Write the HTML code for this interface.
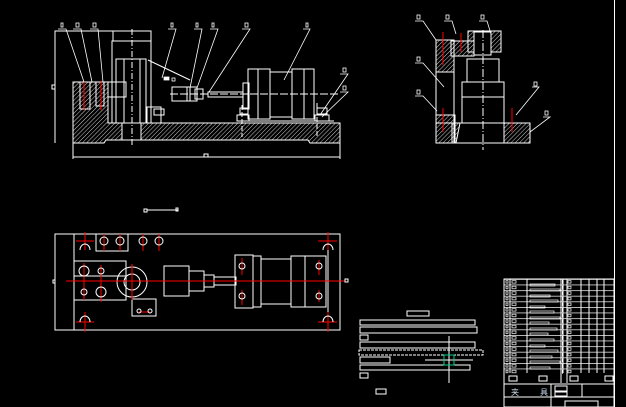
<!DOCTYPE html>
<html><head><meta charset="utf-8"><style>
html,body{margin:0;padding:0;background:#000;width:626px;height:407px;overflow:hidden}
svg{display:block}
text{font-family:"Liberation Sans","Noto Sans CJK SC",sans-serif}
</style></head><body>
<svg width="626" height="407" viewBox="0 0 626 407" xmlns="http://www.w3.org/2000/svg">
<defs>
<pattern id="h" width="3" height="3" patternUnits="userSpaceOnUse" patternTransform="rotate(45)"><line x1="0" y1="0" x2="0" y2="3" stroke="#fff" stroke-width="0.8"/></pattern>
<pattern id="rows" width="200" height="5.6" patternUnits="userSpaceOnUse" y="279"><line x1="0" y1="0.3" x2="200" y2="0.3" stroke="#fff" stroke-width="0.8"/></pattern>
<pattern id="cells" width="200" height="5.6" patternUnits="userSpaceOnUse" x="504" y="279">
<rect x="2" y="1.6" width="2" height="2.5" fill="none" stroke="#fff" stroke-width="0.7"/>
<rect x="8" y="1.6" width="4" height="2.5" fill="none" stroke="#fff" stroke-width="0.7"/>
<rect x="64" y="1.6" width="3" height="2.5" fill="none" stroke="#fff" stroke-width="0.7"/>
<rect x="58" y="1" width="1" height="4" fill="#fff"/>
</pattern>
</defs>
<g fill="none" stroke="#fff" stroke-width="1">
<line x1="614.5" y1="0" x2="614.5" y2="407"/>

<!-- FRONT VIEW -->
<polyline points="55,143 55,31 150,31"/>
<rect x="52" y="85" width="3" height="4"/>
<line x1="73" y1="157" x2="340" y2="157"/>
<line x1="73" y1="143" x2="73" y2="159"/><line x1="340" y1="143" x2="340" y2="159"/>
<rect x="204" y="154" width="4" height="3"/>
<path d="M73,82 L108,82 L108,123 L340,123 L340,143 L310,143 L308,140 L106,140 L104,143 L73,143 Z" fill="url(#h)"/>
<rect x="122" y="123" width="19" height="17" fill="#000"/>
<rect x="112" y="41" width="39" height="82"/>
<rect x="113" y="31" width="38" height="10"/>
<rect x="116" y="59" width="30" height="64"/>
<line x1="124" y1="59" x2="124" y2="123"/><line x1="140" y1="59" x2="140" y2="123"/>
<line x1="132" y1="29" x2="132" y2="146" stroke-dasharray="6,2,1,2"/>
<rect x="108" y="82" width="18" height="15"/>
<rect x="147" y="107" width="14" height="16"/>
<rect x="154" y="109" width="10" height="6"/>
<rect x="80" y="82" width="10" height="27"/>
<rect x="96" y="82" width="8" height="24"/>
<rect x="172" y="87" width="18" height="14"/>
<rect x="187" y="87" width="10" height="14"/>
<rect x="195" y="89" width="8" height="10"/>
<rect x="208" y="92" width="35" height="5"/>
<rect x="243" y="83" width="6" height="26"/>
<rect x="248" y="69" width="10" height="50"/>
<rect x="258" y="69" width="12" height="50"/>
<rect x="270" y="72" width="22" height="45"/>
<rect x="292" y="69" width="12" height="50"/>
<rect x="304" y="69" width="10" height="50"/>
<rect x="237" y="115" width="12" height="6"/><rect x="240" y="108" width="8" height="6"/>
<rect x="315" y="115" width="14" height="6"/><rect x="317" y="108" width="10" height="6"/>
<line x1="241" y1="121" x2="334" y2="121"/>
<line x1="170" y1="94" x2="340" y2="94" stroke-dasharray="8,2"/>
<line x1="242" y1="105" x2="242" y2="137" stroke-dasharray="5,2"/>
<line x1="317" y1="103" x2="317" y2="137" stroke-dasharray="5,2"/>
<line x1="148" y1="60" x2="190" y2="80"/>
<line x1="84" y1="81" x2="84" y2="110" stroke="#f00"/>
<line x1="101" y1="81" x2="101" y2="110" stroke="#f00"/>
<g stroke-width="0.8">
<polyline points="58,29 66,29 84,82"/><polyline points="73,29 81,29 92,82"/><polyline points="90,29 98,29 103,82"/>
<polyline points="168,29 176,29 162,78"/><polyline points="194,29 202,29 190,88"/><polyline points="210,29 218,29 197,88"/>
<polyline points="242,29 250,29 209,92"/><polyline points="303,29 310,29 284,80"/>
<polyline points="340,74 348,74 320,115"/><polyline points="340,92 348,92 322,117"/>
</g>
<g stroke-width="0.8">
<rect x="61" y="23" width="2" height="4"/><rect x="76" y="23" width="3" height="4"/><rect x="93" y="23" width="3" height="4"/>
<rect x="171" y="23" width="2" height="4"/><rect x="196" y="23" width="2" height="4"/><rect x="212" y="23" width="2" height="4"/>
<rect x="245" y="23" width="3" height="4"/><rect x="306" y="23" width="2" height="4"/>
<rect x="343" y="68" width="3" height="4"/><rect x="343" y="86" width="3" height="4"/>
<rect x="164" y="77" width="5" height="3" fill="#fff"/><rect x="172" y="78" width="3" height="3"/>
</g>
<rect x="144" y="209" width="3" height="3"/><line x1="147" y1="210" x2="178" y2="210"/><rect x="176" y="208" width="2" height="3"/>

<!-- SIDE VIEW -->
<path d="M436,40 L454,40 L454,72 L436,72 Z M436,115 L455,115 L455,143 L436,143 Z M504,123 L530,123 L530,143 L504,143 Z M452,123 L460,123 L456,143 L452,143Z" fill="url(#h)"/>
<path d="M451,41 L474,41 L474,56 L451,56 Z M468,31 L501,31 L501,52 L468,52Z" fill="url(#h)"/>
<rect x="474" y="32" width="17" height="23" fill="#000"/>
<rect x="436" y="40" width="18" height="103"/>
<rect x="436" y="123" width="94" height="20"/>
<rect x="467" y="59" width="32" height="23"/>
<rect x="462" y="82" width="42" height="15"/>
<line x1="462" y1="97" x2="462" y2="123"/><line x1="504" y1="97" x2="504" y2="123"/>
<line x1="483" y1="30" x2="483" y2="150" stroke-dasharray="8,2,1,2"/>
<line x1="443" y1="32" x2="443" y2="65" stroke="#f00"/>
<line x1="443" y1="108" x2="443" y2="132" stroke="#f00"/>
<line x1="512" y1="108" x2="512" y2="132" stroke="#f00"/>
<line x1="461" y1="33" x2="461" y2="52" stroke="#f00"/>
<g stroke-width="0.8">
<polyline points="415,21 423,21 436,40"/><polyline points="444,21 452,21 456,34"/><polyline points="479,21 487,21 491,34"/>
<polyline points="415,63 423,63 444,87"/><polyline points="415,96 423,96 437,111"/>
<polyline points="532,87 539,87 516,115"/><polyline points="543,117 550,117 530,132"/>
<rect x="417" y="15" width="3" height="4"/><rect x="446" y="15" width="3" height="4"/><rect x="481" y="15" width="3" height="4"/>
<rect x="417" y="57" width="3" height="4"/><rect x="417" y="90" width="3" height="4"/><rect x="534" y="82" width="3" height="4"/><rect x="545" y="111" width="3" height="4"/>
</g>

<!-- TOP VIEW -->
<rect x="55" y="234" width="285" height="96"/>
<line x1="74" y1="234" x2="74" y2="330"/><line x1="328" y1="234" x2="328" y2="330"/>
<rect x="96" y="234" width="32" height="17"/>
<rect x="74" y="261" width="52" height="15"/>
<path d="M74,261 L126,261 L126,300 L74,300"/>
<circle cx="132" cy="282" r="15"/><circle cx="132" cy="282" r="8"/>
<rect x="132" y="299" width="24" height="17"/>
<rect x="164" y="266" width="25" height="30"/>
<rect x="189" y="271" width="15" height="20"/>
<rect x="204" y="275" width="10" height="12"/>
<rect x="214" y="277" width="22" height="8"/>
<rect x="235" y="255" width="18" height="53"/>
<rect x="253" y="256" width="8" height="51"/>
<rect x="261" y="259" width="30" height="45"/>
<rect x="291" y="256" width="14" height="51"/>
<rect x="305" y="256" width="21" height="51"/>
<g stroke="#f00" stroke-width="1">
<line x1="66" y1="281" x2="345" y2="281"/>
<line x1="85" y1="232" x2="85" y2="250"/><line x1="76" y1="241" x2="94" y2="241"/>
<line x1="328" y1="232" x2="328" y2="250"/><line x1="318" y1="241" x2="337" y2="241"/>
<line x1="85" y1="312" x2="85" y2="332"/><line x1="76" y1="322" x2="94" y2="322"/>
<line x1="328" y1="312" x2="328" y2="332"/><line x1="318" y1="322" x2="337" y2="322"/>
<line x1="132" y1="264" x2="132" y2="300"/>
<line x1="84" y1="263" x2="84" y2="288"/><line x1="101" y1="265" x2="101" y2="285"/>
<line x1="84" y1="285" x2="84" y2="300"/><line x1="101" y1="283" x2="101" y2="302"/>
<line x1="242" y1="258" x2="242" y2="275"/><line x1="242" y1="290" x2="242" y2="305"/>
<line x1="319" y1="260" x2="319" y2="275"/><line x1="319" y1="290" x2="319" y2="302"/>
<line x1="104" y1="234" x2="104" y2="251"/><line x1="120" y1="234" x2="120" y2="251"/><line x1="143" y1="234" x2="143" y2="251"/><line x1="159" y1="234" x2="159" y2="251"/>
<line x1="139" y1="312" x2="150" y2="312"/>
</g>
<g stroke-width="1">
<circle cx="104" cy="241" r="4"/><circle cx="120" cy="241" r="4"/><circle cx="143" cy="241" r="4"/><circle cx="159" cy="241" r="4"/>
<circle cx="84" cy="271" r="5"/><circle cx="101" cy="271" r="3"/><circle cx="84" cy="292" r="3"/><circle cx="101" cy="292" r="5"/>
<circle cx="139" cy="311" r="2"/><circle cx="150" cy="311" r="2"/>
<circle cx="242" cy="266" r="3"/><circle cx="242" cy="296" r="3"/><circle cx="319" cy="266" r="3"/><circle cx="319" cy="296" r="3"/>
<path d="M80,250 A5,6 0 0 1 90,250"/><path d="M323,250 A5,6 0 0 1 333,250"/>
<path d="M80,322 A5,6 0 0 1 90,322"/><path d="M323,322 A5,6 0 0 1 333,322"/>
</g>
<rect x="53" y="280" width="2" height="3"/><rect x="345" y="279" width="3" height="3"/>

<!-- PARTS LIST STRIPES -->
<rect x="407" y="311" width="22" height="5"/>
<rect x="360" y="320" width="115" height="5"/>
<rect x="360" y="327" width="117" height="6"/>
<rect x="360" y="335" width="8" height="5"/>
<rect x="360" y="342" width="115" height="6"/>
<rect x="359" y="350" width="124" height="5" stroke-dasharray="3,1"/>
<rect x="360" y="357" width="30" height="6"/>
<rect x="360" y="365" width="110" height="5"/>
<rect x="360" y="373" width="8" height="5"/>
<rect x="376" y="389" width="10" height="5"/>
<line x1="449" y1="336" x2="449" y2="383"/>
<line x1="425" y1="360" x2="473" y2="360"/>
<rect x="444" y="355" width="10" height="10" stroke="#0c8"/>

<!-- TITLE TABLE -->
<rect x="504" y="279" width="110" height="128"/>
<rect x="504" y="279" width="110" height="95" fill="url(#rows)" stroke="none"/>
<rect x="504" y="279" width="110" height="95" fill="url(#cells)" stroke="none"/>
<line x1="510" y1="279" x2="510" y2="373"/><line x1="527" y1="279" x2="527" y2="373"/>
<line x1="561" y1="279" x2="561" y2="383"/><line x1="563" y1="279" x2="563" y2="373"/>
<line x1="567" y1="279" x2="567" y2="383"/><line x1="581" y1="279" x2="581" y2="373"/>
<line x1="589" y1="279" x2="589" y2="373"/><line x1="597" y1="279" x2="597" y2="373"/>
<line x1="604" y1="279" x2="604" y2="373"/>
<line x1="504" y1="384" x2="614" y2="384"/><line x1="504" y1="397" x2="614" y2="397"/>
<line x1="551" y1="384" x2="551" y2="407"/><line x1="582" y1="384" x2="582" y2="397"/>
<rect x="509" y="376" width="8" height="5"/><rect x="539" y="376" width="8" height="5"/><rect x="570" y="376" width="8" height="5"/><rect x="605" y="376" width="8" height="5"/>
<rect x="565" y="401" width="33" height="6"/>
<rect x="555" y="386" width="12" height="5"/><rect x="555" y="392" width="12" height="4"/>
<g stroke-width="0.7">
<rect x="530" y="284" width="25" height="2"/><rect x="530" y="289" width="30" height="2"/><rect x="530" y="295" width="20" height="2"/>
<rect x="530" y="300" width="28" height="2"/><rect x="530" y="306" width="15" height="2"/><rect x="530" y="311" width="24" height="2"/>
<rect x="530" y="317" width="30" height="2"/><rect x="530" y="322" width="19" height="2"/><rect x="530" y="328" width="27" height="2"/>
<rect x="530" y="333" width="18" height="2"/><rect x="530" y="339" width="24" height="2"/><rect x="530" y="345" width="15" height="2"/>
<rect x="530" y="350" width="28" height="2"/><rect x="530" y="356" width="22" height="2"/><rect x="530" y="361" width="30" height="2"/>
<rect x="530" y="367" width="20" height="2"/>
</g>
</g>
<text x="511" y="395" font-size="8" fill="#cde">夹</text>
<text x="540" y="395" font-size="8" fill="#cde">具</text>
</svg>
</body></html>
